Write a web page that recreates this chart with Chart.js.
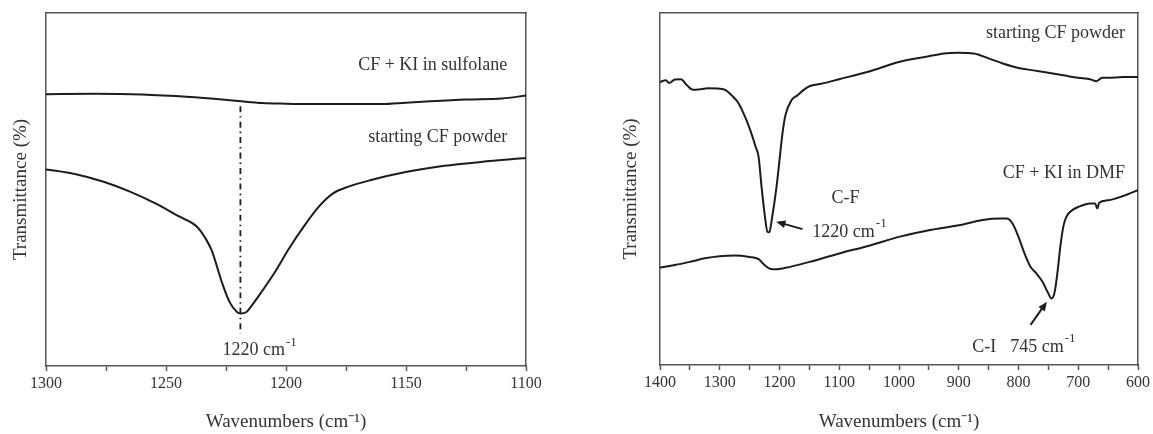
<!DOCTYPE html>
<html>
<head>
<meta charset="utf-8">
<script src="https://cdn.jsdelivr.net/npm/chart.js@4.4.0/dist/chart.umd.min.js"></script>
<style>
  html, body { margin: 0; padding: 0; background: #fff; }
  #wrap { position: relative; width: 1153px; height: 434px; }
  .panel { position: absolute; top: 0; height: 434px; }
  #left { left: 0; width: 580px; }
  #right { left: 580px; width: 573px; }
</style>
</head>
<body>
<div id="wrap">
  <div class="panel" id="left"><canvas id="chartLeft"></canvas></div>
  <div class="panel" id="right"><canvas id="chartRight"></canvas></div>
</div>
<script>
// left panel: 1300-1100 cm-1
const sulfolaneX = [1300, 1280, 1260, 1240, 1230, 1220, 1210, 1200, 1190, 1175, 1160, 1150, 1140, 1125, 1110, 1100];
const sulfolaneY = [77.0, 77.1, 76.9, 76.2, 75.7, 75.1, 74.5, 74.3, 74.2, 74.2, 74.2, 74.6, 75.0, 75.5, 75.8, 76.6];

const powderLeftX = [1300, 1288, 1276, 1265, 1254, 1245, 1237, 1233.5, 1231, 1226.5, 1223.5, 1220.4, 1218.9, 1216.5,
                     1214.2, 1211.2, 1205, 1198.8, 1192.7, 1186.5, 1180.4, 1174, 1165, 1149.6, 1134, 1118.8, 1100];
const powderLeftY = [55.7, 54.4, 52.2, 49.4, 45.9, 42.5, 39.4, 36.1, 32.8, 23.3, 18.1, 15.3, 14.9, 15.3,
                     17.2, 20.0, 26.2, 33.2, 39.4, 45.0, 48.9, 50.8, 52.6, 55.0, 56.7, 57.8, 58.9];

const markerLeftX = [1219, 1219];
const markerLeftY = [73.6, 9.2];

// right panel: 1400-600 cm-1
const powderRightX = [1400, 1390, 1385, 1375, 1365, 1355, 1345, 1335, 1320, 1300, 1290, 1280, 1270, 1260, 1250, 1240,
                      1235, 1230, 1225, 1220, 1217, 1213, 1205, 1200, 1195, 1190, 1180, 1170, 1160, 1150, 1130, 1100,
                      1050, 1000, 950, 925, 900, 875, 850, 825, 800, 775, 750, 725, 700, 680, 670, 660, 650, 625, 600];
const powderRightY = [80.4, 80.9, 80.1, 81.1, 81.2, 79.5, 78.2, 78.3, 78.6, 78.5, 78.1, 76.6, 74.7, 71.4, 67.2, 62.0,
                      59.1, 50.6, 43.0, 37.8, 37.7, 41.2, 50.6, 58.2, 65.8, 71.0, 75.2, 76.6, 78.1, 79.2, 79.9, 81.2,
                      83.4, 86.1, 87.7, 88.5, 88.7, 88.5, 87.1, 85.6, 84.4, 83.7, 83.0, 82.3, 81.6, 81.2, 80.6, 81.6, 81.6, 81.8, 81.8];

const dmfX = [1400, 1375, 1350, 1325, 1300, 1275, 1250, 1235, 1225, 1215, 1205, 1190, 1150, 1100, 1050, 1000, 950, 900,
              860, 830, 820, 810, 800, 790, 780, 770, 760, 750, 745, 740, 735, 730, 725, 720, 710, 700, 680, 672, 668,
              665, 650, 625, 600];
const dmfY = [27.7, 28.4, 29.3, 30.3, 30.9, 31.1, 30.7, 30.1, 28.4, 27.3, 27.2, 27.6, 29.3, 31.7, 33.9, 36.4, 38.3, 39.7,
              41.2, 41.6, 41.6, 40.2, 36.4, 31.7, 27.9, 26.0, 23.7, 20.3, 18.9, 20.3, 26.0, 33.6, 39.3, 42.1, 44.0, 44.9,
              45.9, 45.9, 44.5, 46.1, 46.8, 48.0, 49.7];

const FONT = "'Liberation Serif', 'Times New Roman', serif";
const INK = '#1c1c1c';
const FRAME = '#555';
const TEXT = '#333';

function pts(xs, ys) {
    return xs.map((x, i) => ({ x, y: ys[i] }));
}

function curve(xs, ys) {
    return {
        data: pts(xs, ys),
        borderColor: INK,
        borderWidth: 2,
        pointRadius: 0,
        tension: 0.4,
        cubicInterpolationMode: 'monotone'
    };
}

// text with an optional superscript, e.g. "cm" + "-1"
function drawText(ctx, text, sup, x, y, align) {
    ctx.font = `18px ${FONT}`;
    const w1 = ctx.measureText(text).width;
    ctx.font = `12px ${FONT}`;
    const w2 = sup ? ctx.measureText(sup).width + 1 : 0;
    let x0 = x;
    if (align === 'right') x0 = x - w1 - w2;
    if (align === 'center') x0 = x - (w1 + w2) / 2;
    ctx.textBaseline = 'middle';
    ctx.textAlign = 'left';
    ctx.font = `18px ${FONT}`;
    ctx.fillText(text, x0, y);
    if (sup) {
        ctx.font = `13px ${FONT}`;
        ctx.fillText(sup, x0 + w1 + 1, y - 8);
    }
}

const notesPlugin = {
    id: 'notes',
    afterDatasetsDraw(chart, args, opts) {
        const { ctx, scales: { x, y } } = chart;
        ctx.save();
        ctx.fillStyle = TEXT;
        (opts.labels || []).forEach(l => {
            drawText(ctx, l.text, l.sup, x.getPixelForValue(l.x), y.getPixelForValue(l.y), l.align);
        });
        ctx.strokeStyle = INK;
        ctx.fillStyle = INK;
        ctx.lineWidth = 2;
        (opts.arrows || []).forEach(a => {
            const x0 = x.getPixelForValue(a.from[0]), y0 = y.getPixelForValue(a.from[1]);
            const x1 = x.getPixelForValue(a.to[0]), y1 = y.getPixelForValue(a.to[1]);
            const ang = Math.atan2(y1 - y0, x1 - x0);
            const head = 10;
            ctx.beginPath();
            ctx.moveTo(x0, y0);
            ctx.lineTo(x1 - Math.cos(ang) * head * 0.8, y1 - Math.sin(ang) * head * 0.8);
            ctx.stroke();
            ctx.beginPath();
            ctx.moveTo(x1, y1);
            ctx.lineTo(x1 - head * Math.cos(ang - 0.4), y1 - head * Math.sin(ang - 0.4));
            ctx.lineTo(x1 - head * Math.cos(ang + 0.4), y1 - head * Math.sin(ang + 0.4));
            ctx.closePath();
            ctx.fill();
        });
        ctx.restore();
    }
};

function makeChart(id, cfg) {
    return new Chart(document.getElementById(id), {
        type: 'line',
        data: { datasets: cfg.datasets },
        plugins: [notesPlugin],
        options: {
            responsive: true,
            maintainAspectRatio: false,
            animation: false,
            layout: { padding: { left: 0, right: cfg.padRight, top: 13, bottom: 0 } },
            plugins: {
                legend: { display: false },
                tooltip: { enabled: false },
                notes: { labels: cfg.labels, arrows: cfg.arrows }
            },
            scales: {
                x: {
                    type: 'linear',
                    reverse: true,
                    min: cfg.xMin,
                    max: cfg.xMax,
                    afterFit: s => { s.height = cfg.xHeight; },
                    border: { display: true, color: FRAME, width: 1.5 },
                    grid: { display: true, drawOnChartArea: false, drawTicks: true, tickLength: 5, color: FRAME, tickWidth: 1.5 },
                    ticks: {
                        stepSize: cfg.minorStep,
                        padding: 3,
                        color: TEXT,
                        font: { family: FONT, size: 16 },
                        maxRotation: 0,
                        autoSkip: false,
                        callback: v => (v % cfg.majorStep === 0 ? String(v) : '')
                    },
                    title: {
                        display: true,
                        text: 'Wavenumbers (cm\u207B\u00B9)',
                        color: TEXT,
                        font: { family: FONT, size: 19 },
                        padding: { top: 0, bottom: 1 }
                    }
                },
                x2: {
                    type: 'linear',
                    position: 'top',
                    afterFit: s => { s.height = 0; },
                    border: { display: true, color: FRAME, width: 1.5 },
                    grid: { display: false },
                    ticks: { display: false }
                },
                y: {
                    min: 0,
                    max: 100,
                    afterFit: s => { s.width = cfg.yWidth; },
                    border: { display: true, color: FRAME, width: 1.5 },
                    grid: { display: false },
                    ticks: { display: false },
                    title: {
                        display: true,
                        text: 'Transmittance (%)',
                        color: TEXT,
                        font: { family: FONT, size: 19 },
                        padding: { top: cfg.yTitlePad, bottom: 0 }
                    }
                },
                y2: {
                    position: 'right',
                    afterFit: s => { s.width = 0; },
                    border: { display: true, color: FRAME, width: 1.5 },
                    grid: { display: false },
                    ticks: { display: false }
                }
            }
        }
    });
}

const marker = curve(markerLeftX, markerLeftY);
marker.borderWidth = 1.8;
marker.tension = 0;
marker.borderDash = [6, 4, 1.5, 4];

makeChart('chartLeft', {
    xMin: 1100, xMax: 1300, minorStep: 25, majorStep: 50,
    padRight: 54, xHeight: 68, yWidth: 46, yTitlePad: 10,
    datasets: [curve(sulfolaneX, sulfolaneY), curve(powderLeftX, powderLeftY), marker],
    labels: [
        { text: 'CF + KI in sulfolane', x: 1107.8, y: 85.2, align: 'right' },
        { text: 'starting CF powder', x: 1107.8, y: 64.8, align: 'right' },
        { text: '1220 cm', sup: '-1', x: 1226.5, y: 4.5, align: 'left' }
    ],
    arrows: []
});

makeChart('chartRight', {
    xMin: 600, xMax: 1400, minorStep: 50, majorStep: 100,
    padRight: 14, xHeight: 69, yWidth: 80, yTitlePad: 40,
    datasets: [curve(powderRightX, powderRightY), curve(dmfX, dmfY)],
    labels: [
        { text: 'starting CF powder', x: 621.8, y: 94.2, align: 'right' },
        { text: 'CF + KI in DMF', x: 621.8, y: 54.5, align: 'right' },
        { text: 'C-F', x: 1089.7, y: 47.4, align: 'center' },
        { text: '1220 cm', sup: '-1', x: 1145.0, y: 37.8, align: 'left' },
        { text: 'C-I', x: 877.6, y: 5.1, align: 'left' },
        { text: '745 cm', sup: '-1', x: 813.9, y: 5.1, align: 'left' }
    ],
    arrows: [
        { from: [1161.5, 38.6], to: [1205.5, 40.7] },
        { from: [779.8, 11.4], to: [752.4, 18.0] }
    ]
});
</script>
</body>
</html>
